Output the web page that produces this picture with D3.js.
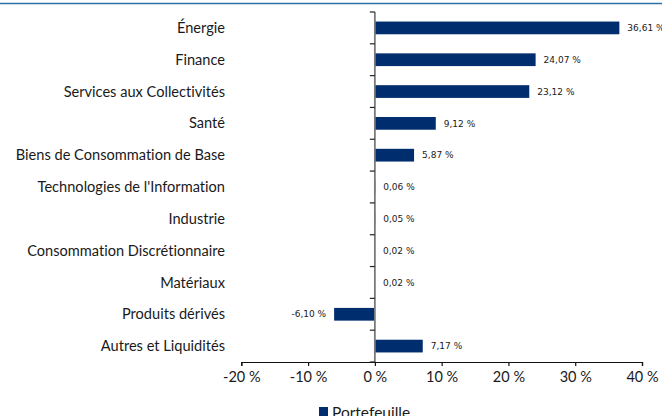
<!DOCTYPE html>
<html>
<head>
<meta charset="utf-8">
<script src="https://cdn.jsdelivr.net/npm/d3@7"></script>
<style>
  body { margin: 0; background: #fff; }
  svg { display: block; }
  text { font-family: Lato, sans-serif; fill: #1a1a1a; font-variant-ligatures: none; }
  .val { font-family: "DejaVu Sans", sans-serif; font-size: 9px; }
</style>
</head>
<body>
<div class="module"></div>
<script>
const categories = [
  "Énergie",
  "Finance",
  "Services aux Collectivités",
  "Santé",
  "Biens de Consommation de Base",
  "Technologies de l'Information",
  "Industrie",
  "Consommation Discrétionnaire",
  "Matériaux",
  "Produits dérivés",
  "Autres et Liquidités"
];
const values = [36.61, 24.07, 23.12, 9.12, 5.87, 0.06, 0.05, 0.02, 0.02, -6.10, 7.17];
const xTicks = [-20, -10, 0, 10, 20, 30, 40];
const seriesName = "Portefeuille";

const width = 662, height = 416;
const navy = "#002d6e";

const data = categories.map((c, i) => ({ name: c, value: values[i] }));

const svg = d3.select(".module")
  .append("svg")
    .attr("width", width)
    .attr("height", height);

// blue rule on top
svg.append("line")
    .attr("x1", 0).attr("x2", width)
    .attr("y1", 3.5).attr("y2", 3.5)
    .attr("stroke", "#2a72a8")
    .attr("stroke-width", 1.5);

const x = d3.scaleLinear()
    .domain([-20, 40])
    .range([241.3, 642]);

const y = d3.scaleBand()
    .domain(categories)
    .range([12, 362])
    .paddingInner(0.6)
    .paddingOuter(0.3);

// french style: comma decimals, plain hyphen for negatives
const fmt = v => v.toFixed(2).replace(".", ",") + " %";

// x axis
const xAxis = svg.append("g")
    .attr("transform", "translate(0,362)")
    .call(d3.axisBottom(x).tickValues(xTicks).tickSize(4).tickPadding(6)
      .tickFormat(d => String(d) + " %"));
xAxis.select(".domain").attr("stroke", "#111").attr("stroke-width", 1.2);
xAxis.selectAll(".tick line").attr("stroke", "#111").attr("stroke-width", 1.2);
xAxis.selectAll("text")
    .style("font-family", "Lato, sans-serif")
    .style("font-size", "14.5px")
    .attr("fill", "#1a1a1a");

// bars
svg.selectAll("rect.bar")
  .data(data)
  .enter()
  .append("rect")
    .attr("class", "bar")
    .attr("x", d => x(Math.min(0, d.value)))
    .attr("y", d => y(d.name))
    .attr("width", d => Math.abs(x(d.value) - x(0)))
    .attr("height", y.bandwidth())
    .attr("fill", navy);

// zero axis with ticks at band boundaries
const step = y.step();
const axisTop = y(categories[0]) - step * y.paddingOuter();
svg.append("line")
    .attr("x1", x(0)).attr("x2", x(0))
    .attr("y1", axisTop).attr("y2", 362)
    .attr("stroke", "#7a7a7a")
    .attr("stroke-width", 1.8);
svg.selectAll("line.ytick")
  .data(d3.range(categories.length + 1))
  .enter()
  .append("line")
    .attr("class", "ytick")
    .attr("x1", x(0) - 5).attr("x2", x(0))
    .attr("y1", k => axisTop + k * step)
    .attr("y2", k => axisTop + k * step)
    .attr("stroke", "#222")
    .attr("stroke-width", 1.2);

// category labels
svg.selectAll("text.cat")
  .data(data)
  .enter()
  .append("text")
    .attr("class", "cat")
    .attr("x", 225)
    .attr("y", d => y(d.name) + y.bandwidth() / 2)
    .attr("dy", "0.35em")
    .attr("text-anchor", "end")
    .style("font-size", "14.6px")
    .text(d => d.name);

// value labels
svg.selectAll("text.val")
  .data(data)
  .enter()
  .append("text")
    .attr("class", "val")
    .attr("x", d => d.value < 0 ? x(d.value) - 8 : x(d.value) + 8)
    .attr("y", d => y(d.name) + y.bandwidth() / 2)
    .attr("dy", "0.35em")
    .attr("text-anchor", d => d.value < 0 ? "end" : "start")
    .text(d => fmt(d.value));

// legend
const legend = svg.append("g").attr("transform", "translate(319,407)");
legend.append("rect")
    .attr("width", 9).attr("height", 9)
    .attr("fill", navy);
legend.append("text")
    .attr("x", 13).attr("y", 11)
    .style("font-size", "15.5px")
    .text(seriesName);
</script>
</body>
</html>
